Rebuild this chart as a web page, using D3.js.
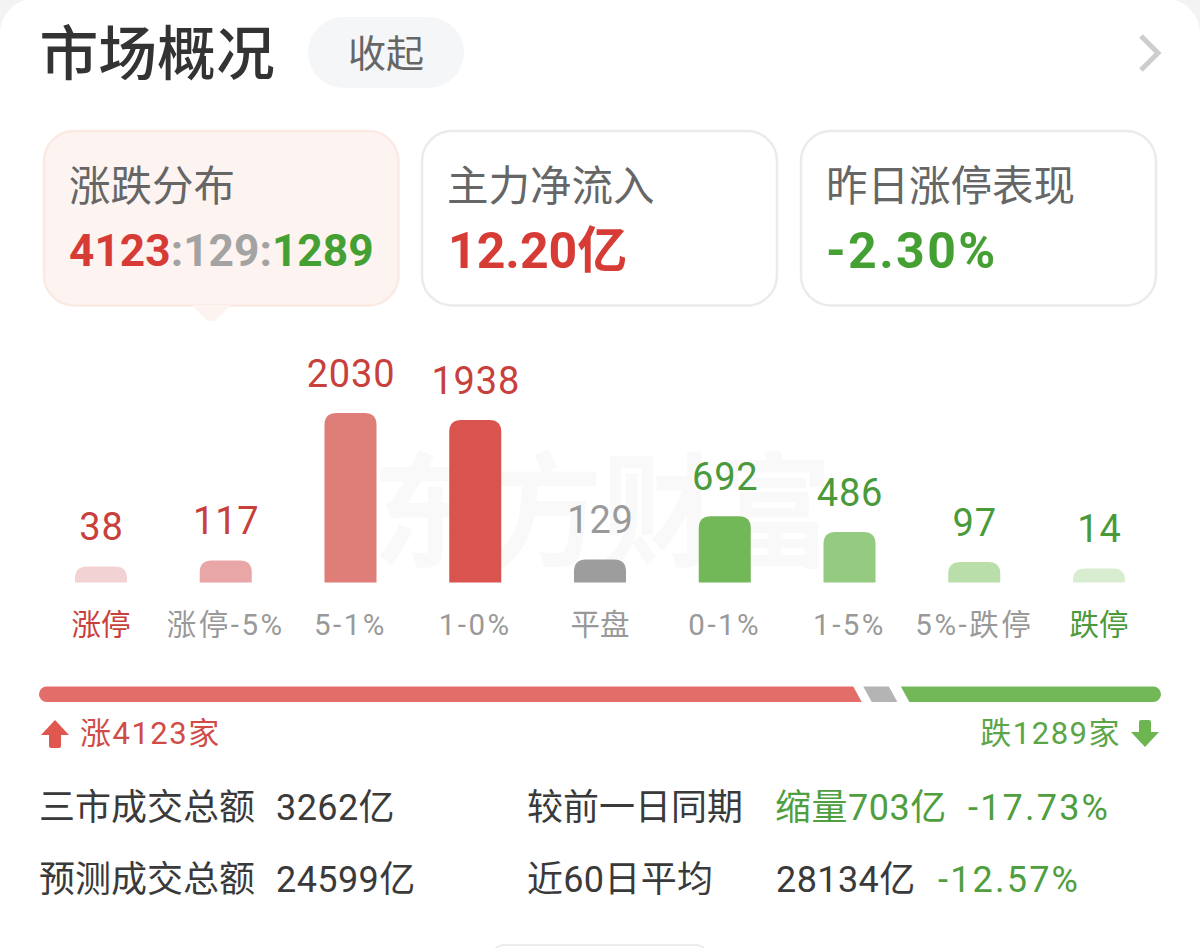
<!DOCTYPE html>
<html><head><meta charset="utf-8">
<script src="https://cdn.jsdelivr.net/npm/d3@7"></script>
<style>
html,body{margin:0;padding:0;background:#fff;overflow:hidden}
svg{display:block}
text{font-family:Roboto,"Noto Sans CJK SC",sans-serif}
.cjk{font-family:"Noto Sans CJK SC",sans-serif}
</style></head><body>
<svg id="c" width="1200" height="948"></svg>
<script>
const categories=["涨停","涨停-5%","5-1%","1-0%","平盘","0-1%","1-5%","5%-跌停","跌停"];
const counts=[38,117,2030,1938,129,692,486,97,14];
const barColors=["#f2d2d2","#e9a6a6","#df7e79","#d9544f","#9d9d9d","#72b859","#94cb80","#b9dea9","#d8edcf"];
const valueColors=["#c8403c","#c8403c","#c8403c","#c8403c","#9a9a9a","#4a9a3c","#4a9a3c","#4a9a3c","#4a9a3c"];
const labelColors=["#c8403c","#999","#999","#999","#999","#999","#999","#999","#4a9a3c"];
const breadth=[4123,129,1289];
const breadthColors=["#e36d69","#b4b4b4","#72b859"];
const tabTitles=["涨跌分布","主力净流入","昨日涨停表现"];
const RED="#d63c35",GREEN="#45a033",GREY="#a3a3a3";

const svg=d3.select("#c");
// page & card
svg.append("rect").attr("width",1200).attr("height",948).attr("fill","#f3f3f3");
svg.append("rect").attr("x",0).attr("y",-1).attr("width",1200).attr("height",1000).attr("rx",34).attr("fill","#fff");
svg.append("rect").attr("x",490).attr("y",945).attr("width",220).attr("height",30).attr("rx",15).attr("fill","#fff").attr("stroke","#ececec").attr("stroke-width",2);

function t(x,y,s,size,fill,o={}){
  return svg.append("text").attr("x",x).attr("y",y).attr("font-size",size).attr("fill",fill)
    .attr("font-weight",o.w||400).attr("text-anchor",o.a||"start").attr("letter-spacing",o.ls||null).text(s);
}
// header
t(39.5,75,"市场概况",58.8,"#333",{w:500}).attr("class","cjk");
svg.append("rect").attr("x",308).attr("y",17).attr("width",156).attr("height",71).attr("rx",35.5).attr("fill","#f5f6f8");
t(386,67,"收起",38,"#666",{a:"middle"}).attr("class","cjk");
svg.append("path").attr("d","M1141 36 L1158 53 L1141 70").attr("fill","none").attr("stroke","#cdcdcd").attr("stroke-width",5);

// tabs
const tabX=[44,422,801];
tabX.forEach((x,i)=>{
  svg.append("rect").attr("x",x).attr("y",131).attr("width",i===0?354.5:355).attr("height",174.5).attr("rx",30)
    .attr("fill",i===0?"#fdf4f1":"#fff").attr("stroke",i===0?"#fbe9e3":"#ebebeb").attr("stroke-width",2.5);
  t(x+25,201,tabTitles[i],41.5,"#666").attr("class","cjk");
});
svg.append("path").attr("d","M192 305 L205 319 Q211 324 217 319 L231 305 Z").attr("fill","#fdf4f1");
const tt=t(69,266,"",44.3,RED,{w:700});
[[breadth[0],RED],[":",GREY],[breadth[1],GREY],[":",GREY],[breadth[2],GREEN]].forEach(([s,f])=>tt.append("tspan").attr("fill",f).text(s));
t(448,268,"12.20亿",50,RED,{w:700});
t(826,268,"-2.30%",50,GREEN,{w:700,ls:2.4});

// watermark
t(0,0,"东方财富",115,"#f9f9f9",{a:"middle",w:700}).attr("class","cjk").attr("transform","translate(602,557) scale(1,1.08)");

// bars
const base=582.5;
const x=d3.scaleBand().domain(categories).range([38.6,1161.4]).paddingInner(0.583).paddingOuter(0.2915);
const y=d3.scaleLinear().domain([0,2030]).range([569.5,413]);
const rr=12;
const barPath=(d,i)=>{
  const x0=x(categories[i]),w=x.bandwidth(),top=y(d),r=Math.min(rr,base-top);
  const p=d3.path();
  p.moveTo(x0,base);p.lineTo(x0,top+r);p.quadraticCurveTo(x0,top,x0+r,top);
  p.lineTo(x0+w-r,top);p.quadraticCurveTo(x0+w,top,x0+w,top+r);p.lineTo(x0+w,base);p.closePath();
  return p.toString();
};
svg.append("g").selectAll("path").data(counts).join("path").attr("d",barPath).attr("fill",(d,i)=>barColors[i]);
svg.append("g").selectAll("text").data(counts).join("text")
  .attr("x",(d,i)=>x(categories[i])+x.bandwidth()/2+0.5).attr("y",d=>y(d)-26.5)
  .attr("text-anchor","middle").attr("font-size",38).attr("letter-spacing",0.8).attr("fill",(d,i)=>valueColors[i]).text(d=>d);
const ax=svg.append("g").attr("transform",`translate(0,${base})`).call(d3.axisBottom(x).tickSize(0).tickPadding(0));
ax.select(".domain").remove();
ax.selectAll("text").attr("y",0).attr("dy",0).attr("transform","translate(0,52)")
  .attr("font-size",29.5).attr("font-family",'Roboto,"Noto Sans CJK SC",sans-serif')
  .attr("letter-spacing",d=>d.includes("-")?2.5:null)
  .attr("fill",(d,i)=>labelColors[i]);

// breadth bar
const gaps=[0,10,22],bx0=39,bx1=1161,by0=686.5,by1=702,slant=8.5;
const bs=d3.scaleLinear().domain([0,d3.sum(breadth)]).range([0,bx1-bx0-22]);
let acc=0;
breadth.forEach((v,i)=>{
  const l=bx0+bs(acc)+gaps[i], r=l+bs(v); acc+=v;
  const rad=(by1-by0)/2,p=d3.path(),s=slant/2;
  if(i===0){p.moveTo(l+rad,by0);p.lineTo(r-s,by0);p.lineTo(r+s,by1);p.lineTo(l+rad,by1);p.arc(l+rad,by0+rad,rad,Math.PI/2,-Math.PI/2);}
  else if(i===1){p.moveTo(l-s,by0);p.lineTo(r-s,by0);p.lineTo(r+s,by1);p.lineTo(l+s,by1);}
  else{p.moveTo(l-s,by0);p.lineTo(r-rad,by0);p.arc(r-rad,by0+rad,rad,-Math.PI/2,Math.PI/2);p.lineTo(l+s,by1);}
  p.closePath();
  svg.append("path").attr("d",p.toString()).attr("fill",breadthColors[i]);
});

// up/down
svg.append("path").attr("d","M55 720 L69 735 L61 735 L61 746 Q61 748 59 748 L51 748 Q49 748 49 746 L49 735 L41 735 Z").attr("fill","#e0574f");
t(80,744,"涨"+breadth[0]+"家",31,"#cf4c47",{ls:1.5});
t(1121,744,"跌"+breadth[2]+"家",31,"#5ca548",{a:"end",ls:1.5});
svg.append("path").attr("d","M1145 747 L1159 732 L1151 732 L1151 722 Q1151 720 1149 720 L1141 720 Q1139 720 1139 722 L1139 732 L1131 732 Z").attr("fill","#6cb550");

// stats
const DK="#3a3a3a",G2="#4f9e40",FS=36;
t(39,820,"三市成交总额",FS,DK);
t(276,820,"3262亿",FS,DK,{ls:0.4});
t(527,820,"较前一日同期",FS,DK);
t(775,820,"缩量703亿",FS,G2,{ls:0.5});
t(968,820,"-17.73%",FS,G2,{ls:2.2});
t(39,892,"预测成交总额",FS,DK);
t(276,892,"24599亿",FS,DK,{ls:0.4});
t(527,892,"近60日平均",FS,DK,{ls:0.3});
t(776,892,"28134亿",FS,DK,{ls:0.4});
t(938,892,"-12.57%",FS,G2,{ls:2.2});
</script></body></html>
